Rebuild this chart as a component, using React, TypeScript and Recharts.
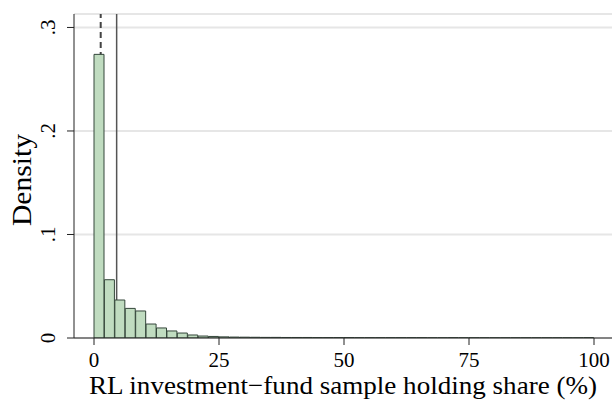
import { ComposedChart, Bar, XAxis, YAxis, CartesianGrid, ReferenceLine, Label } from "recharts";

// histogram: 48 equal-width bins over 0-100
const binCount = 48;
const binWidth = 100 / binCount;
const densities = [
  0.274, 0.0563, 0.0367, 0.0286, 0.0261, 0.0135, 0.0097, 0.0068,
  0.0048, 0.0029, 0.0019, 0.0015, 0.0011, 0.0009, 0.0008, 0.0007,
  0.0006, 0.0006, 0.0005, 0.0005, 0.0005, 0.0004, 0.0004, 0.0004,
  0.0004, 0.0003, 0.0003, 0.0003, 0.0003, 0.0003, 0.0003, 0.0003,
  0.0002, 0.0002, 0.0003, 0.0002, 0.0002, 0.0002, 0.0002, 0.0002,
  0.0002, 0.0002, 0.0002, 0.0002, 0.0002, 0.0002, 0.0002, 0.0003,
];
const xTicks = [0, 25, 50, 75, 100];
const yTicks = [0, 0.1, 0.2, 0.3];
const medianShare = 1.34;
const meanShare = 4.53;

const data = densities.map((density, i) => ({ mid: (i + 0.5) * binWidth, density }));

const FONT = '"Liberation Serif", "Times New Roman", serif';

const fmtY = (v: number) => (v === 0 ? "0" : String(v).replace(/^0/, ""));

function YTick({ y, payload }: any) {
  const bx = 55;
  return (
    <text
      x={bx}
      y={y}
      transform={`rotate(-90, ${bx}, ${y})`}
      textAnchor="middle"
      fontSize={21}
      fontFamily={FONT}
      fill="#000"
    >
      {fmtY(payload.value)}
    </text>
  );
}

function XTick({ x, payload }: any) {
  return (
    <text x={x} y={367} textAnchor="middle" fontSize={21} fontFamily={FONT} fill="#000">
      {payload.value}
    </text>
  );
}

export default function App() {
  return (
    <div style={{ position: "absolute", left: 0, top: 0, background: "#fff" }}>
      <ComposedChart
        width={614}
        height={400}
        data={data}
        margin={{ top: 14, right: 2, left: 0, bottom: 0 }}
        barCategoryGap={0}
        barGap={0}
      >
        <CartesianGrid vertical={false} stroke="#e6e6e6" strokeWidth={2} />
        <XAxis
          dataKey="mid"
          type="number"
          domain={[-4, 103.6]}
          ticks={xTicks}
          allowDataOverflow
          height={62}
          stroke="#222"
          tickSize={7}
          tick={<XTick />}
        >
          <Label
            content={() => (
              <text
                x={343}
                y={394}
                textAnchor="middle"
                fontSize={26}
                fontFamily={FONT}
                fill="#000"
                textLength={508}
                lengthAdjust="spacingAndGlyphs"
              >
                RL investment−fund sample holding share (%)
              </text>
            )}
          />
        </XAxis>
        <YAxis
          type="number"
          domain={[0, 0.313]}
          ticks={yTicks}
          allowDataOverflow
          width={74}
          stroke="#222"
          tickSize={7}
          tick={<YTick />}
        >
          <Label
            content={() => (
              <text
                x={31}
                y={180}
                transform="rotate(-90, 31, 180)"
                textAnchor="middle"
                fontSize={27}
                fontFamily={FONT}
                fill="#000"
                textLength={92}
                lengthAdjust="spacingAndGlyphs"
              >
                Density
              </text>
            )}
          />
        </YAxis>
        {/* median (dashed) and mean (solid) markers, kept behind the bars */}
        <ReferenceLine
          x={medianShare}
          stroke="#444"
          strokeWidth={2}
          strokeDasharray="6 4"
          zIndex={100}
        />
        <ReferenceLine x={meanShare} stroke="#555" strokeWidth={1.5} zIndex={100} />
        <Bar
          dataKey="density"
          fill="#c0dcc0"
          stroke="#34463a"
          strokeWidth={1}
          isAnimationActive={false}
        />
      </ComposedChart>
    </div>
  );
}
